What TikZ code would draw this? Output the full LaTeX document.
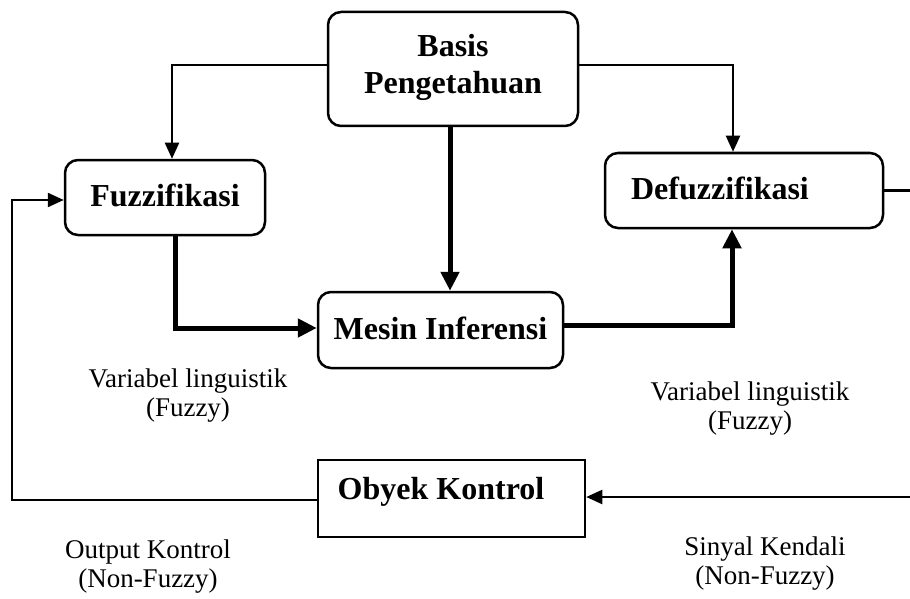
\documentclass[tikz,border=0pt]{standalone}
\usepackage{fontspec}
\setmainfont{Liberation Serif}
\usetikzlibrary{arrows.meta}
\begin{document}
\begin{tikzpicture}[x=1pt,y=1pt,
  rbox/.style={draw, line width=2.5pt, rounded corners=13pt, inner sep=0pt},
  sbox/.style={draw, line width=2.5pt, inner sep=0pt},
  btext/.style={font=\fontsize{32}{37}\selectfont\bfseries, align=center, inner sep=0pt},
  ltext/.style={font=\fontsize{27}{29}\selectfont, align=center, inner sep=0pt},
  conn/.style={line width=2.2pt, -{Triangle[length=16pt,width=14pt]}},
  plain/.style={line width=2.2pt},
  thickc/.style={line width=5pt, -{Triangle[length=19pt,width=18pt]}}
]
\useasboundingbox (0,0) rectangle (910,-599);
% boxes
\node[rbox, minimum width=250pt, minimum height=114pt] (basis) at (453,-69) {};
\node[btext] (basist) at (453,-67) {Basis\\Pengetahuan};
\node[rbox, minimum width=200pt, minimum height=75pt] (fuzz) at (165,-197.5) {};
\node[btext] (fuzzt) at (165,-195) {Fuzzifikasi};
\node[rbox, minimum width=278pt, minimum height=75pt] (defuzz) at (744,-190.5) {};
\node[btext] (defuzzt) at (720,-188) {Defuzzifikasi};
\node[rbox, minimum width=245pt, minimum height=76pt] (mesin) at (440.5,-330) {};
\node[btext] (mesint) at (440.5,-328) {Mesin Inferensi};
\node[sbox, minimum width=267pt, minimum height=77pt] (obyek) at (451.5,-498.5) {};
\node[btext] (obyekt) at (441,-492) {Obyek Kontrol};
% labels
\node[ltext] (l1) at (188,-396) {Variabel linguistik\\(Fuzzy)};
\node[ltext] (l2) at (750,-409) {Variabel linguistik\\(Fuzzy)};
\node[ltext] (l3) at (148,-567) {Output Kontrol\\(Non-Fuzzy)};
\node[ltext] (l4) at (765,-564) {Sinyal Kendali\\(Non-Fuzzy)};
% connectors
\draw[conn] ([yshift=4pt]basis.west) -| ([xshift=7pt]fuzz.north);
\draw[conn] ([yshift=4pt]basis.east) -| ([xshift=-11pt]defuzz.north);
\draw[thickc] ([xshift=-3pt]basis.south) -- ([xshift=9.5pt]mesin.north);
\draw[thickc] ([xshift=10pt]fuzz.south) |- ([yshift=2pt]mesin.west);
\draw[thickc] ([yshift=5pt]mesin.east) -| ([xshift=-12pt]defuzz.south);
\coordinate (rt) at (910,-190.5);
\draw[plain] (defuzz.east) -- (rt);
\coordinate (rb) at (910,-497);
\draw[conn] (rb) -- (rb -| obyek.east);
\coordinate (lc) at (12,-200);
\draw[conn] ([yshift=-1.5pt]obyek.west) -| (lc) -- (lc -| fuzz.west);
\end{tikzpicture}
\end{document}
